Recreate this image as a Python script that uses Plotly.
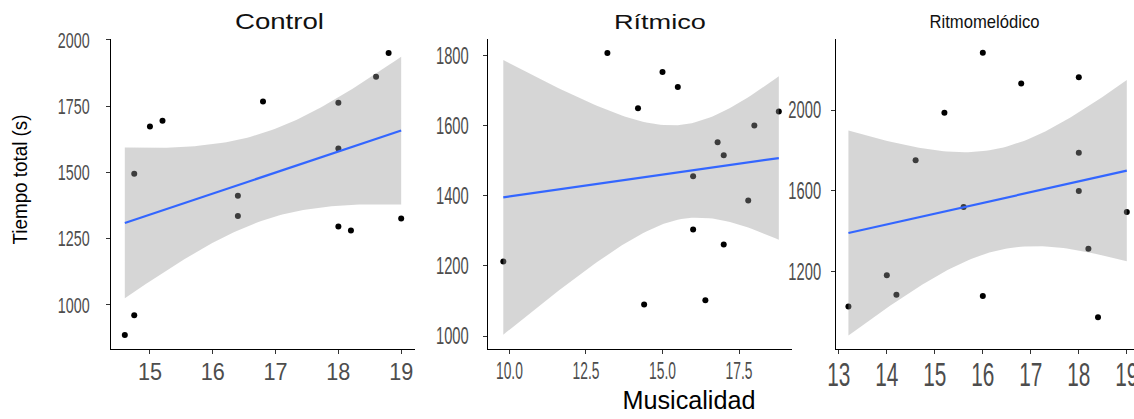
import json
import numpy as np
import plotly.graph_objects as go

# ---------------- data ----------------
panel_titles = ["Control", "Rítmico", "Ritmomelódico"]

control_x = [14.6, 14.75, 14.75, 15.0, 15.2, 16.4, 16.4, 16.8, 18.0, 18.0, 18.0, 18.2, 18.6, 18.8, 19.0]
control_y = [887, 961, 1495, 1673, 1695, 1412, 1336, 1767, 1763, 1590, 1296, 1281, 1861, 1950, 1326]

ritmico_x = [9.8, 13.2, 14.2, 14.4, 15.0, 15.5, 16.0, 16.0, 16.4, 16.8, 17.0, 17.0, 17.8, 18.0, 18.8]
ritmico_y = [1213, 1808, 1650, 1090, 1754, 1711, 1456, 1304, 1102, 1553, 1516, 1261, 1387, 1601, 1641]

ritmomel_x = [13.2, 14.0, 14.2, 14.6, 15.2, 15.6, 16.0, 16.0, 16.8, 18.0, 18.0, 18.0, 18.2, 18.4, 19.0]
ritmomel_y = [1027, 1182, 1086, 1751, 1987, 1520, 2284, 1080, 2132, 2162, 1789, 1599, 1314, 974, 1495]

x_tickvals = [[15, 16, 17, 18, 19], [10, 12.5, 15, 17.5], [13, 14, 15, 16, 17, 18, 19]]
x_ticktext = [["15", "16", "17", "18", "19"], ["10.0", "12.5", "15.0", "17.5"],
              ["13", "14", "15", "16", "17", "18", "19"]]
y_tickvals = [[1000, 1250, 1500, 1750, 2000], [1000, 1200, 1400, 1600, 1800], [1200, 1600, 2000]]

x_title = "Musicalidad"
y_title = "Tiempo total (s)"

T_975_DF13 = 2.160369  # t quantile for the 95% confidence band, n = 15

# ---------------- styling ----------------
W, H = 1134, 419
x_ranges = [[14.38, 19.22], [9.31, 19.24], [12.935, 19.15]]
y_ranges = [[834, 2003], [963, 1848], [817, 2352]]
x_domains_px = [(111, 415), (488.3, 792.3), (835.7, 1134)]
y_domain = [1 - 349 / H, 1 - 39 / H]
xtick_size = [24, 23, 33]
ytick_size = [22, 23, 23]
ytick_standoff = [12, 10, 5]
xtick_standoff = [-3, -3, -8]
xtick_squeeze = [0.9, 0.6, 0.63]
ytick_squeeze = [0.65, 0.64, 0.64]
title_size = [22, 20, 18.6]
title_xc = [279.5, 660, 984]
title_yc = 22
# target text widths (px) for the annotation texts
annot_widths = {"Control": 89, "Rítmico": 92, "Ritmomelódico": 110,
                "Musicalidad": 133, "Tiempo total (s)": 130}

FONT = "Liberation Sans, Arial, sans-serif"
TICKCOL = "#4d4d4d"


def fit_band(x, y, t):
    x = np.asarray(x, float)
    y = np.asarray(y, float)
    n = len(x)
    b1, b0 = np.polyfit(x, y, 1)
    resid = y - (b0 + b1 * x)
    s = np.sqrt(np.sum(resid ** 2) / (n - 2))
    xbar = x.mean()
    sxx = np.sum((x - xbar) ** 2)
    xs = np.linspace(x.min(), x.max(), 80)
    yh = b0 + b1 * xs
    se = s * np.sqrt(1 / n + (xs - xbar) ** 2 / sxx)
    return xs, yh, yh - t * se, yh + t * se


fig = go.Figure()
datasets = [(control_x, control_y), (ritmico_x, ritmico_y), (ritmomel_x, ritmomel_y)]
for i, (xv, yv) in enumerate(datasets):
    sfx = "" if i == 0 else str(i + 1)
    xa, ya = "x" + sfx, "y" + sfx
    fig.add_trace(go.Scatter(x=xv, y=yv, mode="markers", xaxis=xa, yaxis=ya,
                             marker=dict(color="black", size=6, line=dict(width=0)),
                             hoverinfo="skip"))
    xs, yh, lo, hi = fit_band(xv, yv, T_975_DF13)
    fig.add_trace(go.Scatter(x=np.concatenate([xs, xs[::-1]]), y=np.concatenate([hi, lo[::-1]]),
                             mode="lines", fill="toself", fillcolor="rgba(153,153,153,0.4)",
                             line=dict(width=0), xaxis=xa, yaxis=ya, hoverinfo="skip"))
    fig.add_trace(go.Scatter(x=xs, y=yh, mode="lines", line=dict(color="#3366FF", width=2.2),
                             xaxis=xa, yaxis=ya, hoverinfo="skip"))

    x0, x1 = x_domains_px[i]
    common = dict(showgrid=False, zeroline=False, showline=True, linecolor="black", linewidth=1,
                  ticks="outside", ticklen=4, tickwidth=1, tickcolor="#333333", automargin=False,
                  ticklabeloverflow="allow")
    fig.layout["xaxis" + sfx] = dict(common, domain=[x0 / W, min(x1 / W, 1.0)], range=x_ranges[i],
                                     anchor=ya, tickvals=x_tickvals[i], ticktext=x_ticktext[i],
                                     ticklabelstandoff=xtick_standoff[i],
                                     tickfont=dict(family=FONT, color=TICKCOL, size=xtick_size[i]))
    fig.layout["yaxis" + sfx] = dict(common, domain=y_domain, range=y_ranges[i], anchor=xa,
                                     tickvals=y_tickvals[i], ticklabelstandoff=ytick_standoff[i],
                                     tickfont=dict(family=FONT, color=TICKCOL, size=ytick_size[i]))
    fig.add_annotation(text=panel_titles[i], x=title_xc[i] / W, y=1 - title_yc / H,
                       xref="paper", yref="paper", xanchor="center", yanchor="middle",
                       showarrow=False, font=dict(family=FONT, size=title_size[i], color="#111111"))

fig.add_annotation(text=x_title, x=689 / W, y=1 - 400 / H, xref="paper", yref="paper",
                   xanchor="center", yanchor="middle", showarrow=False,
                   font=dict(family=FONT, size=25, color="black"))
fig.add_annotation(text=y_title, x=19 / W, y=1 - 180 / H, xref="paper", yref="paper",
                   xanchor="center", yanchor="middle", showarrow=False, textangle=-90,
                   font=dict(family=FONT, size=21, color="black"))

fig.update_layout(width=W, height=H, margin=dict(l=0, r=0, t=0, b=0),
                  plot_bgcolor="white", paper_bgcolor="white", showlegend=False,
                  hovermode=False)

# Condense the text horizontally (the reference uses a narrow face) via SVG textLength.
subplots = ["xy", "x2y2", "x3y3"]
squeeze_cfg = {"sub": subplots, "xf": xtick_squeeze, "yf": ytick_squeeze, "ann": annot_widths}
post_js = """
(function(){
  document.documentElement.style.margin = '0';
  document.body.style.margin = '0';
  document.body.style.padding = '0';
  document.body.style.overflow = 'hidden';
  var gd = document.getElementById('{plot_id}');
  var cfg = %s;
  function setLen(t, L){ t.setAttribute('lengthAdjust','spacingAndGlyphs'); t.setAttribute('textLength', L); }
  function squeeze(){
    cfg.sub.forEach(function(s, i){
      gd.querySelectorAll('.subplot.' + s + ' .xaxislayer-above text').forEach(function(t){
        t.removeAttribute('textLength'); setLen(t, t.getComputedTextLength() * cfg.xf[i]); });
      gd.querySelectorAll('.subplot.' + s + ' .yaxislayer-above text').forEach(function(t){
        t.removeAttribute('textLength'); setLen(t, t.getComputedTextLength() * cfg.yf[i]); });
    });
    gd.querySelectorAll('.annotation-text').forEach(function(t){
      var w = cfg.ann[t.textContent];
      if (w) { setLen(t, w); }
    });
  }
  squeeze();
  if (gd.on) { gd.on('plotly_afterplot', squeeze); }
})();
""" % json.dumps(squeeze_cfg, ensure_ascii=False)

fig.write_html("out.html", post_script=post_js, config={"displayModeBar": False})
